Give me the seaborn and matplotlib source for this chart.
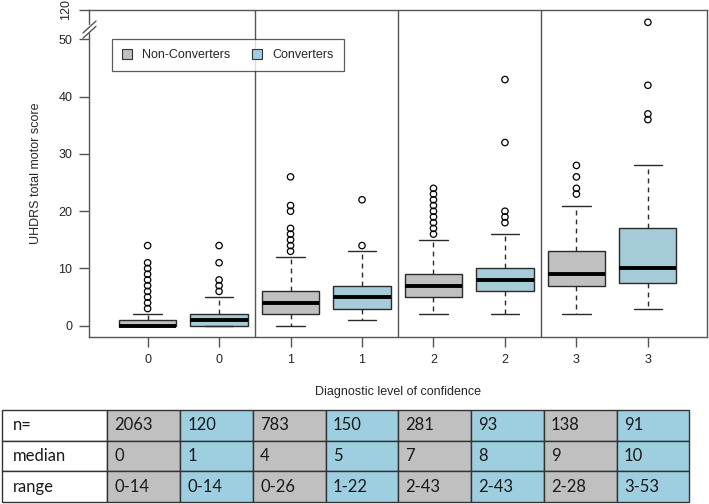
import numpy as np
import pandas as pd
import seaborn as sns
import matplotlib.pyplot as plt
from matplotlib.patches import Patch

levels = ["0", "0", "1", "1", "2", "2", "3", "3"]
groups = ["Non-Converters", "Converters"] * 4

# box summaries (lower whisker, q1, median, q3, upper whisker)
whisk_lo = [0, 0, 0, 1, 2, 2, 2, 3]
q1 = [0, 0, 2, 3, 5, 6, 7, 7.5]
medians = [0, 1, 4, 5, 7, 8, 9, 10]
q3 = [1, 2, 6, 7, 9, 10, 13, 17]
whisk_hi = [2, 5, 12, 13, 15, 16, 21, 28]

outliers = [
    [3, 4, 5, 6, 7, 8, 9, 10, 11, 14],
    [6, 7, 8, 11, 14],
    [13, 14, 15, 16, 17, 20, 21, 26],
    [14, 22],
    [16, 17, 18, 19, 20, 21, 22, 23, 24],
    [18, 19, 20, 32, 43],
    [23, 24, 26, 28],
    [36, 37, 42, 53],
]

# table under the plot
n_vals = [2063, 120, 783, 150, 281, 93, 138, 91]
med_text = ["0", "1", "4", "5", "7", "8", "9", "10"]
range_text = ["0-14", "0-14", "0-26", "1-22", "2-43", "2-43", "2-28", "3-53"]

pal = {"Non-Converters": "#c0c0c0", "Converters": "#9ecfe1"}
hue_order = ["Non-Converters", "Converters"]

keys = [f"{l}_{g[0]}" for l, g in zip(levels, groups)]

rows = []
for i, k in enumerate(keys):
    for v in (whisk_lo[i], q1[i], medians[i], q3[i], whisk_hi[i]):
        rows.append((k, groups[i], v))
box_df = pd.DataFrame(rows, columns=["pos", "group", "score"])

orows = []
for i, k in enumerate(keys):
    for v in outliers[i]:
        orows.append((k, v))
out_df = pd.DataFrame(orows, columns=["pos", "score"])

sns.set_theme(style="white")
plt.rcParams["font.family"] = ["Liberation Sans", "DejaVu Sans"]

fig = plt.figure(figsize=(7.09, 5.04), dpi=100)
ax = fig.add_axes([89 / 709, 1 - 337 / 504, (706.5 - 89) / 709, (337 - 10) / 504])

sns.boxplot(data=box_df, x="pos", y="score", hue="group", order=keys,
            hue_order=hue_order, palette=pal, dodge=False, width=0.8,
            whis=(0, 100), linecolor="#2a2a2a", linewidth=1,
            medianprops=dict(color="black", linewidth=2.8),
            whiskerprops=dict(linestyle=(0, (3.5, 3))),
            legend=False, ax=ax)
sns.stripplot(data=out_df, x="pos", y="score", order=keys, jitter=False,
              color="black", facecolor="none", edgecolor="black",
              linewidth=0.9, size=4.6, ax=ax)

for xv in (1.5, 3.5, 5.5):
    ax.axvline(xv, color="#555555", lw=1)

top = 55.15
ax.set_ylim(-1.97, top)
ax.set_xlim(-0.82, 7.82)
ax.set_yticks([0, 10, 20, 30, 40, 50, top], ["0", "10", "20", "30", "40", "50", "120"])
ax.get_yticklabels()[-1].set_rotation(90)
ax.get_yticklabels()[-1].set_va("center")
ax.set_xticks(range(8), levels)
ax.tick_params(axis="both", direction="out", length=7, width=1, color="#555555",
               labelsize=9, pad=5, left=True, bottom=True)
for s in ax.spines.values():
    s.set_visible(True)
    s.set_color("#555555")
    s.set_linewidth(1)

ax.set_xlabel("Diagnostic level of confidence", fontsize=9, labelpad=15)
ax.set_ylabel("UHDRS total motor score", fontsize=9, labelpad=12)

# axis break marks
ax.plot([0, 0], [0.937, 0.952], transform=ax.transAxes, clip_on=False, color="white", lw=2.5, zorder=5)
for dy in (0, -0.016):
    ax.plot([-0.0097, 0.0113], [0.93 + dy, 0.966 + dy], transform=ax.transAxes,
            clip_on=False, color="#555555", lw=1, zorder=6)

handles = [Patch(facecolor=pal[g], edgecolor="#333333", lw=0.8, label=g) for g in hue_order]
leg = ax.legend(handles=handles, ncol=2, loc="upper left", bbox_to_anchor=(0.0368, 0.911),
                borderaxespad=0, fontsize=9, frameon=True, fancybox=False,
                handlelength=0.8, handleheight=0.8, columnspacing=1.8,
                borderpad=0.8, handletextpad=0.8)
leg.get_frame().set_edgecolor("#333333")
leg.get_frame().set_linewidth(0.9)
# R pads the legend box on the right
leg._legend_box.align = "left"

# summary table
tab_ax = fig.add_axes([2 / 709, 1 - 502 / 504, (689.3 - 2) / 709, 92 / 504])
tab_ax.axis("off")
cell_text = [["n="] + [str(v) for v in n_vals],
             ["median"] + med_text,
             ["range"] + range_text]
colours = [["white"] + [pal[g] for g in groups] for _ in range(3)]
col_w = [105.3] + [72.75] * 8
col_w = [w / sum(col_w) for w in col_w]
tbl = tab_ax.table(cellText=cell_text, cellColours=colours, colWidths=col_w,
                   cellLoc="left", bbox=[0, 0, 1, 1])
tbl.auto_set_font_size(False)
tbl.set_fontsize(12)
for cell in tbl.get_celld().values():
    cell.set_edgecolor("#333333")
    cell.set_linewidth(1)
    cell.get_text().set_fontfamily(["Lato", "DejaVu Sans"])
    cell.get_text().set_color("#1a1a1a")

fig.savefig("out.png", dpi=100)
